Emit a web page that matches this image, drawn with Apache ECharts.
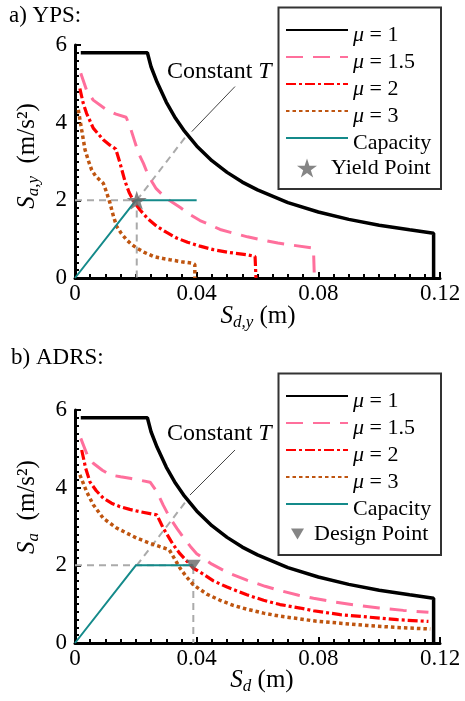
<!DOCTYPE html>
<html>
<head>
<meta charset="utf-8">
<script src="https://cdn.jsdelivr.net/npm/echarts@6/dist/echarts.min.js"></script>
<style>
  html, body { margin: 0; padding: 0; background: #fff; }
  #chart { width: 465px; height: 701px; }
</style>
</head>
<body>
<div id="chart"></div>
<script>
// values, [Sd (m), Sa (m/s^2)]
// mu = 1 (elastic) is the same curve in both panels
const elastic = [[0.0019, 5.8], [0.0238, 5.8], [0.025, 5.44], [0.027, 5.04], [0.03, 4.53], [0.033, 4.12],
  [0.036, 3.78], [0.04, 3.4], [0.045, 3.02], [0.05, 2.72], [0.055, 2.47], [0.06, 2.27], [0.07, 1.94],
  [0.08, 1.7], [0.09, 1.51], [0.1, 1.36], [0.11, 1.24], [0.1179, 1.155], [0.1179, 0]];

// a) YPS panel
const ypsMu15 = [[0.0019, 5.27], [0.0038, 4.84], [0.006, 4.58], [0.0104, 4.33], [0.0135, 4.22], [0.0168, 4.14],
  [0.018, 3.92], [0.0195, 3.55], [0.0209, 3.21], [0.0225, 2.95], [0.0237, 2.72], [0.0253, 2.48], [0.0267, 2.3],
  [0.03, 2.05], [0.0345, 1.82], [0.0377, 1.64], [0.0411, 1.48], [0.0449, 1.35], [0.0477, 1.25], [0.0523, 1.15],
  [0.0567, 1.06], [0.0614, 0.98], [0.0667, 0.9], [0.072, 0.84], [0.0784, 0.77], [0.0787, 0]];
const ypsMu2 = [[0.0016, 4.88], [0.0027, 4.5], [0.0038, 4.24], [0.006, 3.86], [0.0093, 3.56], [0.0115, 3.42],
  [0.0134, 3.32], [0.0148, 2.96], [0.0164, 2.5], [0.0178, 2.2], [0.0195, 1.95], [0.0214, 1.75], [0.024, 1.52],
  [0.0269, 1.33], [0.03, 1.18], [0.0334, 1.03], [0.037, 0.92], [0.0411, 0.82], [0.0455, 0.73], [0.0505, 0.66],
  [0.0565, 0.6], [0.0592, 0.555], [0.0595, 0]];
const ypsMu3 = [[0.0011, 4.33], [0.0022, 3.81], [0.0033, 3.3], [0.0045, 3.0], [0.0055, 2.78], [0.0068, 2.62],
  [0.0093, 2.44], [0.0104, 2.2], [0.0115, 1.93], [0.0126, 1.6], [0.0137, 1.33], [0.0152, 1.15], [0.017, 0.98],
  [0.0185, 0.87], [0.0203, 0.77], [0.0228, 0.66], [0.0258, 0.555], [0.029, 0.5], [0.0312, 0.47], [0.035, 0.42],
  [0.0385, 0.38], [0.0394, 0.35], [0.0394, 0]];
const ypsCapacity = [[0, 0], [0.02, 2], [0.04, 2]];
const yieldPoint = [[0.0203, 2]];
const ypsGuide = [[0, 2], [0.0203, 2], [0.0203, 0]];
const ypsConstT = [[0.0203, 2], [0.037, 3.7]];
const ypsArrow = [[0.0526, 4.93], [0.0384, 3.77]];

// b) ADRS panel
const adrsMu15 = [[0.0019, 5.27], [0.004, 4.85], [0.006, 4.63], [0.009, 4.45], [0.0115, 4.33], [0.015, 4.28],
  [0.018, 4.24], [0.0215, 4.19], [0.0247, 4.14], [0.0269, 3.9], [0.029, 3.55], [0.0313, 3.21], [0.0335, 2.95],
  [0.0356, 2.72], [0.038, 2.48], [0.04, 2.3], [0.045, 2.03], [0.05, 1.82], [0.0565, 1.62], [0.0625, 1.46],
  [0.0674, 1.35], [0.0735, 1.23], [0.0784, 1.15], [0.085, 1.06], [0.092, 0.98], [0.1, 0.9], [0.108, 0.84],
  [0.1162, 0.79]];
const adrsMu2 = [[0.0022, 4.97], [0.0035, 4.5], [0.0049, 4.15], [0.007, 3.92], [0.0093, 3.73], [0.012, 3.6],
  [0.0148, 3.51], [0.018, 3.44], [0.0214, 3.38], [0.0269, 3.3], [0.029, 2.96], [0.0323, 2.53], [0.0345, 2.3],
  [0.0389, 1.93], [0.042, 1.78], [0.0455, 1.6], [0.05, 1.44], [0.0565, 1.24], [0.062, 1.1], [0.0674, 0.99],
  [0.074, 0.9], [0.0784, 0.83], [0.0872, 0.73], [0.096, 0.67], [0.106, 0.6], [0.1162, 0.555]];
const adrsMu3 = [[0.0016, 4.33], [0.0038, 3.9], [0.006, 3.56], [0.0093, 3.21], [0.0137, 2.96], [0.0203, 2.7],
  [0.025, 2.56], [0.031, 2.4], [0.0325, 2.2], [0.0345, 1.93], [0.0367, 1.7], [0.0389, 1.5], [0.0433, 1.26],
  [0.0477, 1.1], [0.052, 0.97], [0.0565, 0.87], [0.062, 0.77], [0.0674, 0.69], [0.074, 0.62], [0.0784, 0.57],
  [0.0872, 0.51], [0.096, 0.45], [0.106, 0.4], [0.1168, 0.36]];
const adrsCapacity = [[0, 0], [0.02, 2], [0.0389, 2]];
const designPoint = [[0.0389, 2]];
const adrsGuide = [[0, 2], [0.0389, 2], [0.0389, 0]];
const adrsConstT = [[0.0203, 2], [0.037, 3.7]];
const adrsArrow = [[0.0526, 4.97], [0.0378, 3.81]];

const curveNames = ['μ = 1', 'μ = 1.5', 'μ = 2', 'μ = 3', 'Capacity'];

const FONT = 'Liberation Serif';
const STAR = 'path://M50,0 L61.23,34.55 L97.55,34.55 L68.17,55.9 L79.39,90.45 L50,69.1 L20.61,90.45 L31.83,55.9 L2.45,34.55 L38.77,34.55 Z';
const TRI_DOWN = 'path://M0,0 L20,0 L10,17 Z';

const styles = {
  'μ = 1': { color: '#000000', width: 3.5, type: 'solid' },
  'μ = 1.5': { color: '#ff6f9c', width: 3, type: [17, 10] },
  'μ = 2': { color: '#ff0000', width: 3.2, type: [10, 3, 3, 3] },
  'μ = 3': { color: '#bf5510', width: 3.5, type: [3.5, 3] },
  'Capacity': { color: '#148a8a', width: 2, type: 'solid' }
};

function curve(name, data, idx) {
  const s = styles[name];
  return {
    type: 'line', name, data, xAxisIndex: idx, yAxisIndex: idx,
    symbol: 'none', silent: true, animation: false, z: 3,
    lineStyle: { color: s.color, width: s.width, type: s.type, cap: 'butt' },
    itemStyle: { color: s.color }
  };
}

function guide(data, idx, arrow) {
  const s = {
    type: 'line', name: 'guide', data, xAxisIndex: idx, yAxisIndex: idx,
    symbol: 'none', silent: true, animation: false, z: 2,
    lineStyle: { color: '#aaaaaa', width: 2, type: [7, 5] }
  };
  if (arrow) {
    s.markLine = {
      silent: true, animation: false,
      symbol: ['none', 'arrow'], symbolSize: [0, 9],
      label: { show: false },
      lineStyle: { color: '#444444', width: 1, type: 'solid' },
      data: [[{ coord: arrow[0] }, { coord: arrow[1] }]]
    };
  }
  return s;
}

function marker(name, data, idx, symbol, size) {
  return {
    type: 'scatter', name, data, xAxisIndex: idx, yAxisIndex: idx,
    symbol, symbolSize: size, symbolKeepAspect: true,
    silent: true, animation: false, z: 5,
    itemStyle: { color: '#666666' }
  };
}

const axisCommon = {
  type: 'value', min: 0,
  axisLine: { show: true, onZero: false, lineStyle: { color: '#000', width: 3 } },
  axisTick: { show: true, inside: true, length: 6, lineStyle: { color: '#000', width: 2 } },
  minorTick: { show: true, length: 4, lineStyle: { color: '#000', width: 2 } },
  splitLine: { show: false },
  minorSplitLine: { show: false },
  axisLabel: { color: '#000', fontFamily: FONT, fontSize: 23 }
};

function xAxis(idx) {
  return Object.assign({}, axisCommon, {
    gridIndex: idx, max: 0.12, interval: 0.04,
    minorTick: Object.assign({}, axisCommon.minorTick, { splitNumber: 8 }),
    axisLabel: Object.assign({}, axisCommon.axisLabel, {
      margin: 4,
      formatter: v => (Math.abs(v) < 1e-9 ? '0' : v.toFixed(2))
    })
  });
}

function yAxis(idx) {
  return Object.assign({}, axisCommon, {
    gridIndex: idx, max: 6, interval: 2,
    minorTick: Object.assign({}, axisCommon.minorTick, { splitNumber: 10 }),
    axisLabel: Object.assign({}, axisCommon.axisLabel, { margin: 8 })
  });
}

const legendRich = {
  i: { fontFamily: FONT, fontSize: 22, fontStyle: 'italic', lineHeight: 16, color: '#000' },
  n: { fontFamily: FONT, fontSize: 22, lineHeight: 16, color: '#000' }
};
const legendFmt = name => name.charAt(0) === 'μ' ? '{i|μ}{n|' + name.slice(1) + '}' : '{n|' + name + '}';

function curveLegend(top) {
  return {
    data: curveNames, orient: 'vertical', left: 285, top,
    itemWidth: 62, itemHeight: 14, itemGap: -2, padding: 0,
    selectedMode: false, formatter: legendFmt,
    itemStyle: { opacity: 0 },
    textStyle: { fontFamily: FONT, fontSize: 22, lineHeight: 16, padding: [10, 0, 0, 0], color: '#000', rich: legendRich }
  };
}

function markerLegend(name, left, top, w, h, padLeft) {
  return {
    data: [name], orient: 'vertical', left, top,
    itemWidth: w, itemHeight: h, padding: 0, selectedMode: false,
    textStyle: { fontFamily: FONT, fontSize: 22, lineHeight: 22, padding: [0, 0, 0, padLeft], color: '#000' }
  };
}

// rich text for axis names: italic S with lowered subscript
const nameRich = {
  s: { fontFamily: FONT, fontSize: 25, fontStyle: 'italic', lineHeight: 25, verticalAlign: 'top', color: '#000' },
  sub: { fontFamily: FONT, fontSize: 17, fontStyle: 'italic', lineHeight: 39, color: '#000' },
  n: { fontFamily: FONT, fontSize: 25, lineHeight: 25, verticalAlign: 'top', color: '#000' }
};
const noteRich = {
  n: { fontFamily: FONT, fontSize: 24, color: '#000' },
  i: { fontFamily: FONT, fontSize: 24, fontStyle: 'italic', color: '#000' }
};

function nameText(text, x, y, rot) {
  return {
    type: 'text', x, y, rotation: rot || 0, z: 10, silent: true,
    style: { text, rich: nameRich, align: 'center', verticalAlign: 'middle' }
  };
}
function noteText(x, y) {
  return {
    type: 'text', x, y, z: 10, silent: true,
    style: { text: '{n|Constant }{i|T}', rich: noteRich, align: 'left', verticalAlign: 'middle' }
  };
}
function legendBox(y) {
  return {
    type: 'rect', z: 0, silent: true,
    shape: { x: 278.5, y, width: 162.5, height: 181.5 },
    style: { fill: '#fff', stroke: '#333', lineWidth: 2 }
  };
}

const chart = echarts.init(document.getElementById('chart'), null, { renderer: 'canvas' });
chart.setOption({
  animation: false,
  backgroundColor: '#fff',
  textStyle: { fontFamily: FONT },
  title: [
    { text: 'a) YPS:', left: 9, top: 4, padding: 0, textStyle: { fontFamily: FONT, fontSize: 23, fontWeight: 'normal', color: '#000' } },
    { text: 'b) ADRS:', left: 11, top: 346, padding: 0, textStyle: { fontFamily: FONT, fontSize: 23, fontWeight: 'normal', color: '#000' } }
  ],
  grid: [
    { left: 75, top: 45, width: 365, height: 233 },
    { left: 75, top: 410, width: 365, height: 233 }
  ],
  xAxis: [xAxis(0), xAxis(1)],
  yAxis: [yAxis(0), yAxis(1)],
  legend: [
    curveLegend(17),
    markerLegend('Yield Point', 297, 157, 20, 20, 9),
    curveLegend(383),
    markerLegend('Design Point', 291, 523, 13, 13, 5)
  ],
  graphic: [
    legendBox(7.5),
    legendBox(373.5),
    nameText('{s|S}{sub|a,y}{n|  (m/s²)}', 34, 156, Math.PI / 2),
    nameText('{s|S}{sub|a}{n|  (m/s²)}', 34, 507, Math.PI / 2),
    nameText('{s|S}{sub|d,y}{n| (m)}', 258, 323),
    nameText('{s|S}{sub|d}{n| (m)}', 262, 687),
    noteText(167, 72),
    noteText(167, 434)
  ],
  series: [
    guide(ypsGuide, 0),
    guide(ypsConstT, 0, ypsArrow),
    curve('μ = 1', elastic, 0),
    curve('μ = 1.5', ypsMu15, 0),
    curve('μ = 2', ypsMu2, 0),
    curve('μ = 3', ypsMu3, 0),
    curve('Capacity', ypsCapacity, 0),
    marker('Yield Point', yieldPoint, 0, STAR, 20),
    guide(adrsGuide, 1),
    guide(adrsConstT, 1, adrsArrow),
    curve('μ = 1', elastic, 1),
    curve('μ = 1.5', adrsMu15, 1),
    curve('μ = 2', adrsMu2, 1),
    curve('μ = 3', adrsMu3, 1),
    curve('Capacity', adrsCapacity, 1),
    marker('Design Point', designPoint, 1, TRI_DOWN, [15, 13])
  ]
});
</script>
</body>
</html>
